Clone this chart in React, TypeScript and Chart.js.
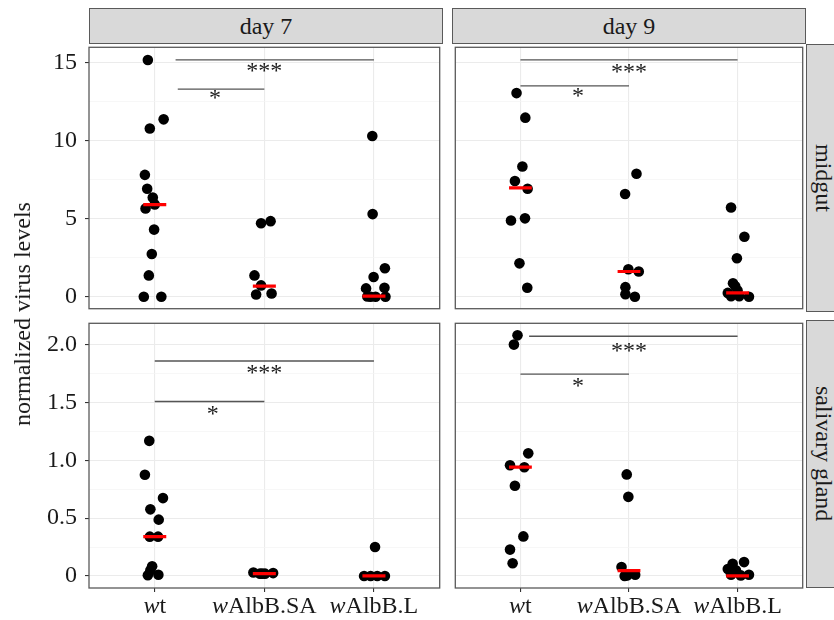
import React, { useEffect, useRef } from 'react';
import { Chart, registerables } from 'chart.js';

Chart.register(...registerables);

const FONT = '"Liberation Serif", "Times New Roman", serif';

// ---------- labels ----------
const categoryItalic = ['w', 'w', 'w'];
const categoryRest = ['t', 'AlbB.SA', 'AlbB.L'];
const dayLabels = ['day 7', 'day 9'];
const tissueLabels = ['midgut', 'salivary gland'];
const yAxisTitle = 'normalized virus levels';

// ---------- y ticks ----------
const midgutTicks = [0, 2.5, 5, 7.5, 10, 12.5, 15];
const midgutMajor = [0, 5, 10, 15];
const midgutTickLabels = ['0', '5', '10', '15'];
const midgutRange = [-0.76, 15.96];

const glandTicks = [0, 0.25, 0.5, 0.75, 1, 1.25, 1.5, 1.75, 2];
const glandMajor = [0, 0.5, 1, 1.5, 2];
const glandTickLabels = ['0', '0.5', '1.0', '1.5', '2.0'];
const glandRange = [-0.104, 2.184];

// ---------- day 7, midgut ----------
const d7MidWt = [15.15, 11.35, 10.77, 7.8, 6.91, 6.35, 5.91, 5.65, 4.3, 2.74, 1.37, 0, 0];
const d7MidWtJit = [-0.063, 0.081, -0.045, -0.09, -0.069, -0.018, 0.0, -0.084, -0.006, -0.027, -0.054, -0.1, 0.06];
const d7MidSA = [4.84, 4.71, 1.37, 0.73, 0.21, 0.15];
const d7MidSAJit = [0.057, -0.03, -0.09, -0.03, 0.066, -0.075];
const d7MidL = [10.29, 5.29, 1.83, 1.27, 0.58, 0.54, 0.02, 0, 0, 0];
const d7MidLJit = [-0.015, -0.012, 0.1, -0.003, 0.096, -0.072, -0.06, 0.015, 0.105, -0.03];
const d7MidMedians = [5.9, 0.68, 0.04];
const d7MidBarFrom = [1.19, 1.21];
const d7MidBarTo = [3.0, 2.0];
const d7MidBarY = [15.15, 13.28];
const d7MidSigX = [2.0, 1.55];
const d7MidSigY = [14.43, 12.72];

// ---------- day 9, midgut ----------
const d9MidWt = [13.03, 11.46, 8.34, 7.41, 6.91, 5.02, 4.88, 2.14, 0.58];
const d9MidWtJit = [-0.036, 0.045, 0.018, -0.051, 0.066, 0.042, -0.087, -0.009, 0.063];
const d9MidSA = [7.87, 6.58, 1.76, 1.62, 0.62, 0.17, 0];
const d9MidSAJit = [0.069, -0.036, -0.006, 0.09, -0.033, -0.033, 0.054];
const d9MidL = [5.71, 3.84, 2.47, 0.87, 0.68, 0.4, 0.25, 0.04, 0.04, 0];
const d9MidLJit = [-0.06, 0.063, -0.006, -0.042, -0.021, 0.0, -0.09, -0.06, 0.015, 0.105];
const d9MidMedians = [6.97, 1.62, 0.25];
const d9MidBarFrom = [1.0, 1.0];
const d9MidBarTo = [3.0, 2.0];
const d9MidBarY = [15.15, 13.49];
const d9MidSigX = [2.0, 1.53];
const d9MidSigY = [14.36, 12.83];

// ---------- day 7, salivary gland ----------
const d7SalWt = [1.168, 0.875, 0.673, 0.576, 0.487, 0.34, 0.34, 0.083, 0.05, 0.006, 0.01];
const d7SalWtJit = [-0.05, -0.09, 0.075, -0.04, 0.036, -0.045, 0.03, -0.024, -0.04, -0.063, 0.033];
const d7SalSA = [0.03, 0.02, 0.02, 0.025, 0.02];
const d7SalSAJit = [-0.1, -0.04, 0.006, 0.08, -0.02];
const d7SalL = [0.25, 0, 0, 0, 0];
const d7SalLJit = [0.01, -0.09, -0.03, 0.03, 0.1];
const d7SalMedians = [0.34, 0.02, 0];
const d7SalBarFrom = [1.0, 1.0];
const d7SalBarTo = [3.0, 2.0];
const d7SalBarY = [1.858, 1.508];
const d7SalSigX = [2.0, 1.53];
const d7SalSigY = [1.752, 1.4];

// ---------- day 9, salivary gland ----------
const d9SalWt = [2.08, 2.0, 1.06, 0.957, 0.94, 0.78, 0.342, 0.228, 0.11];
const d9SalWtJit = [-0.027, -0.06, 0.072, -0.096, 0.036, -0.051, 0.027, -0.096, -0.072];
const d9SalSA = [0.878, 0.684, 0.077, 0.005, 0.01, 0];
const d9SalSAJit = [-0.021, -0.006, -0.069, -0.018, 0.057, -0.04];
const d9SalL = [0.12, 0.106, 0.06, 0.05, 0.01, 0.01, 0.005];
const d9SalLJit = [0.06, -0.045, -0.09, -0.015, -0.06, 0.105, 0.03];
const d9SalMedians = [0.94, 0.046, 0];
const d9SalBarFrom = [1.08, 1.0];
const d9SalBarTo = [3.0, 2.0];
const d9SalBarY = [2.072, 1.744];
const d9SalSigX = [2.0, 1.53];
const d9SalSigY = [1.946, 1.638];

const sigText = ['***', '*'];

// ---------- layout ----------
const COLS = [
  { left: 89, right: 443 },
  { left: 452, right: 806 },
];
const ROWS = [
  { top: 44, bottom: 312 },
  { top: 320, bottom: 588 },
];

type PanelDef = {
  row: number;
  col: number;
  groups: number[][];
  jitters: number[][];
  medians: number[];
  barFrom: number[];
  barTo: number[];
  barY: number[];
  sigX: number[];
  sigY: number[];
};

const panels: PanelDef[] = [
  { row: 0, col: 0, groups: [d7MidWt, d7MidSA, d7MidL], jitters: [d7MidWtJit, d7MidSAJit, d7MidLJit], medians: d7MidMedians, barFrom: d7MidBarFrom, barTo: d7MidBarTo, barY: d7MidBarY, sigX: d7MidSigX, sigY: d7MidSigY },
  { row: 0, col: 1, groups: [d9MidWt, d9MidSA, d9MidL], jitters: [d9MidWtJit, d9MidSAJit, d9MidLJit], medians: d9MidMedians, barFrom: d9MidBarFrom, barTo: d9MidBarTo, barY: d9MidBarY, sigX: d9MidSigX, sigY: d9MidSigY },
  { row: 1, col: 0, groups: [d7SalWt, d7SalSA, d7SalL], jitters: [d7SalWtJit, d7SalSAJit, d7SalLJit], medians: d7SalMedians, barFrom: d7SalBarFrom, barTo: d7SalBarTo, barY: d7SalBarY, sigX: d7SalSigX, sigY: d7SalSigY },
  { row: 1, col: 1, groups: [d9SalWt, d9SalSA, d9SalL], jitters: [d9SalWtJit, d9SalSAJit, d9SalLJit], medians: d9SalMedians, barFrom: d9SalBarFrom, barTo: d9SalBarTo, barY: d9SalBarY, sigX: d9SalSigX, sigY: d9SalSigY },
];

function canvasRect(p: PanelDef) {
  const c = COLS[p.col];
  const r = ROWS[p.row];
  const axisL = p.col === 0 ? c.left : 2;
  const axisB = p.row === 1 ? 620 - r.bottom : 2;
  return {
    left: c.left - axisL,
    top: r.top - 2,
    width: axisL + (c.right - c.left) + 2,
    height: 2 + (r.bottom - r.top) + axisB,
    axisL,
    axisB,
  };
}

function makeChart(canvas: HTMLCanvasElement, p: PanelDef) {
  const rect = canvasRect(p);
  const showY = p.col === 0;
  const showX = p.row === 1;
  const isMid = p.row === 0;
  const yTicks = isMid ? midgutTicks : glandTicks;
  const yMajor = isMid ? midgutMajor : glandMajor;
  const yMajorLabels = isMid ? midgutTickLabels : glandTickLabels;
  const yRange = isMid ? midgutRange : glandRange;
  const isMajor = (v: number) => yMajor.some((m) => Math.abs(m - v) < 1e-9);

  const datasets: any[] = [];
  // medians (on top)
  p.medians.forEach((m, i) => {
    datasets.push({
      data: [
        { x: i + 1 - 0.105, y: m },
        { x: i + 1 + 0.105, y: m },
      ],
      showLine: true,
      borderColor: '#FF0000',
      borderWidth: 3.2,
      pointRadius: 0,
      order: 0,
    });
  });
  // points
  const pts: { x: number; y: number }[] = [];
  p.groups.forEach((g, i) => {
    g.forEach((v, j) => pts.push({ x: i + 1 + p.jitters[i][j], y: v }));
  });
  datasets.push({
    data: pts,
    pointRadius: 5.3,
    pointBackgroundColor: '#000',
    pointBorderWidth: 0,
    showLine: false,
    order: 1,
  });
  // significance brackets
  p.barY.forEach((yv, i) => {
    datasets.push({
      data: [
        { x: p.barFrom[i], y: yv },
        { x: p.barTo[i], y: yv },
      ],
      showLine: true,
      borderColor: '#555555',
      borderWidth: 1.3,
      pointRadius: 0,
      order: 2,
    });
  });

  const decor = {
    id: 'panelDecor',
    afterDatasetsDraw(chart: any) {
      const { ctx, scales } = chart;
      const x = scales.x;
      const y = scales.y;
      ctx.save();
      ctx.font = `24px ${FONT}`;
      ctx.fillStyle = '#1a1a1a';
      ctx.textAlign = 'center';
      ctx.textBaseline = 'alphabetic';
      p.sigX.forEach((sx, i) => {
        ctx.fillText(sigText[i], x.getPixelForValue(sx), y.getPixelForValue(p.sigY[i]) + 7);
      });
      ctx.restore();
    },
    afterDraw(chart: any) {
      const { ctx, chartArea: a, scales } = chart;
      ctx.save();
      ctx.strokeStyle = '#5a5a5a';
      ctx.lineWidth = 1.3;
      ctx.strokeRect(a.left, a.top, a.right - a.left, a.bottom - a.top);
      if (showX) {
        const x = scales.x;
        ctx.fillStyle = '#1a1a1a';
        ctx.textBaseline = 'alphabetic';
        ctx.textAlign = 'left';
        categoryRest.forEach((rest, i) => {
          const cx = x.getPixelForValue(i + 1);
          ctx.font = `italic 24px ${FONT}`;
          const wi = ctx.measureText(categoryItalic[i]).width;
          ctx.font = `24px ${FONT}`;
          const wr = ctx.measureText(rest).width;
          const start = cx - (wi + wr) / 2;
          ctx.font = `italic 24px ${FONT}`;
          ctx.fillText(categoryItalic[i], start, a.bottom + 25);
          ctx.font = `24px ${FONT}`;
          ctx.fillText(rest, start + wi, a.bottom + 25);
        });
      }
      ctx.restore();
    },
  };

  return new Chart(canvas, {
    type: 'scatter',
    data: { datasets },
    plugins: [decor],
    options: {
      animation: false,
      responsive: false,
      devicePixelRatio: window.devicePixelRatio || 1,
      layout: { padding: { left: 0, top: 2, right: 2, bottom: 0 } },
      plugins: { legend: { display: false }, tooltip: { enabled: false } },
      events: [],
      scales: {
        x: {
          type: 'linear',
          min: 0.4,
          max: 3.6,
          afterBuildTicks: (s: any) => {
            s.ticks = [1, 2, 3].map((v) => ({ value: v }));
          },
          afterFit: (s: any) => {
            s.height = rect.axisB;
            s.paddingLeft = 0;
            s.paddingRight = 0;
          },
          ticks: { display: false, autoSkip: false },
          grid: {
            color: '#EBEBEB',
            lineWidth: 1.1,
            drawTicks: showX,
            tickLength: 4,
            tickColor: '#333333',
            tickWidth: 1.1,
          },
          border: { display: false },
        },
        y: {
          type: 'linear',
          min: yRange[0],
          max: yRange[1],
          afterBuildTicks: (s: any) => {
            s.ticks = yTicks.map((v) => ({ value: v }));
          },
          afterFit: (s: any) => {
            s.width = rect.axisL;
            s.paddingTop = 0;
            s.paddingBottom = 0;
          },
          ticks: {
            display: showY,
            autoSkip: false,
            padding: 8,
            color: '#1a1a1a',
            font: { family: FONT, size: 24 },
            callback: (v: any) => {
              const idx = yMajor.findIndex((m) => Math.abs(m - v) < 1e-9);
              return idx >= 0 ? yMajorLabels[idx] : '';
            },
          },
          grid: {
            color: (ctx: any) => (isMajor(ctx.tick.value) ? '#EBEBEB' : '#F3F3F3'),
            lineWidth: (ctx: any) => (isMajor(ctx.tick.value) ? 1.1 : 0.7),
            drawTicks: showY,
            tickLength: 4,
            tickColor: (ctx: any) => (isMajor(ctx.tick.value) ? '#333333' : 'rgba(0,0,0,0)'),
            tickWidth: 1.1,
          },
          border: { display: false },
        },
      },
    } as any,
  });
}

export default function App() {
  const r0 = useRef<HTMLCanvasElement>(null);
  const r1 = useRef<HTMLCanvasElement>(null);
  const r2 = useRef<HTMLCanvasElement>(null);
  const r3 = useRef<HTMLCanvasElement>(null);
  const refs = [r0, r1, r2, r3];

  useEffect(() => {
    const charts = panels.map((p, i) => makeChart(refs[i].current as HTMLCanvasElement, p));
    return () => charts.forEach((c) => c.destroy());
  }, []);

  return (
    <div
      style={{
        position: 'absolute',
        left: 0,
        top: 0,
        width: 834,
        height: 620,
        overflow: 'hidden',
        background: '#ffffff',
        fontFamily: FONT,
        color: '#1a1a1a',
      }}
    >
      {panels.map((p, i) => {
        const rc = canvasRect(p);
        return (
          <canvas
            key={i}
            ref={refs[i]}
            width={rc.width}
            height={rc.height}
            style={{
              position: 'absolute',
              left: rc.left,
              top: rc.top,
              width: rc.width,
              height: rc.height,
            }}
          />
        );
      })}
      {COLS.map((c, i) => (
        <div
          key={'ts' + i}
          style={{
            position: 'absolute',
            left: c.left,
            top: 8,
            width: c.right - c.left,
            height: 36,
            boxSizing: 'border-box',
            background: '#D9D9D9',
            border: '1.3px solid #5a5a5a',
            display: 'flex',
            alignItems: 'center',
            justifyContent: 'center',
            fontSize: 24,
            lineHeight: 1,
          }}
        >
          {dayLabels[i]}
        </div>
      ))}
      {ROWS.map((r, i) => (
        <div
          key={'rs' + i}
          style={{
            position: 'absolute',
            left: COLS[1].right,
            top: r.top,
            width: 36,
            height: r.bottom - r.top,
            boxSizing: 'border-box',
            background: '#D9D9D9',
            border: '1.3px solid #5a5a5a',
            display: 'flex',
            alignItems: 'center',
            justifyContent: 'center',
            fontSize: 24,
            lineHeight: 1,
            writingMode: 'vertical-rl',
            whiteSpace: 'nowrap',
          }}
        >
          {tissueLabels[i]}
        </div>
      ))}
      <div
        style={{
          position: 'absolute',
          left: 22,
          top: 314,
          transform: 'translate(-50%, -50%) rotate(-90deg)',
          fontSize: 24,
          whiteSpace: 'nowrap',
          lineHeight: 1,
        }}
      >
        {yAxisTitle}
      </div>
    </div>
  );
}
